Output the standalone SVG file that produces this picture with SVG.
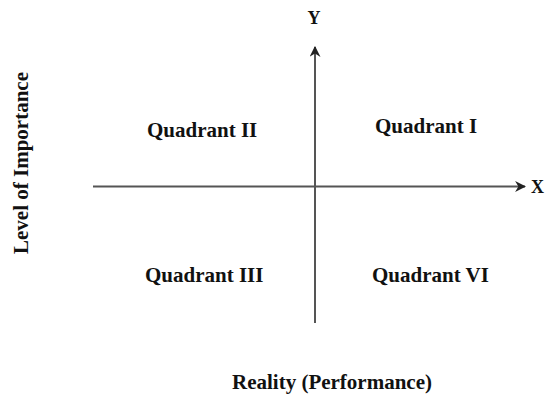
<svg xmlns="http://www.w3.org/2000/svg" width="546" height="397" viewBox="0 0 546 397">
<style>
.t{font-family:"Liberation Serif","Times New Roman",serif;font-weight:bold;font-size:21px;fill:#111}
.ax{stroke:#555;stroke-width:2;fill:none}
</style>
<defs>
<marker id="ah" viewBox="0 0 10 10" refX="9" refY="5" markerWidth="11" markerHeight="11" markerUnits="userSpaceOnUse" orient="auto">
<path d="M0,0 L10,5 L0,10 L3,5 Z" fill="#222"/>
</marker>
</defs>
<rect width="546" height="397" fill="#fff"/>
<g id="connectors">
<line class="ax" x1="93" y1="186.5" x2="525" y2="186.5" marker-end="url(#ah)"/>
<line class="ax" x1="315" y1="323" x2="315" y2="47" marker-end="url(#ah)"/>
</g>
<g id="axis-y"><text class="t" x="314" y="24" text-anchor="middle" style="font-size:18px">Y</text></g>
<g id="axis-x"><text class="t" x="531" y="193" style="font-size:18px">X</text></g>
<g id="q2"><text class="t" x="147" y="137">Quadrant II</text></g>
<g id="q1"><text class="t" x="375" y="133">Quadrant I</text></g>
<g id="q3"><text class="t" x="145" y="282">Quadrant III</text></g>
<g id="q4"><text class="t" x="372" y="282">Quadrant VI</text></g>
<g id="xlabel"><text class="t" x="232" y="389">Reality (Performance)</text></g>
<g id="ylabel"><text class="t" transform="translate(28,163) rotate(-90)" text-anchor="middle">Level of Importance</text></g>
</svg>
